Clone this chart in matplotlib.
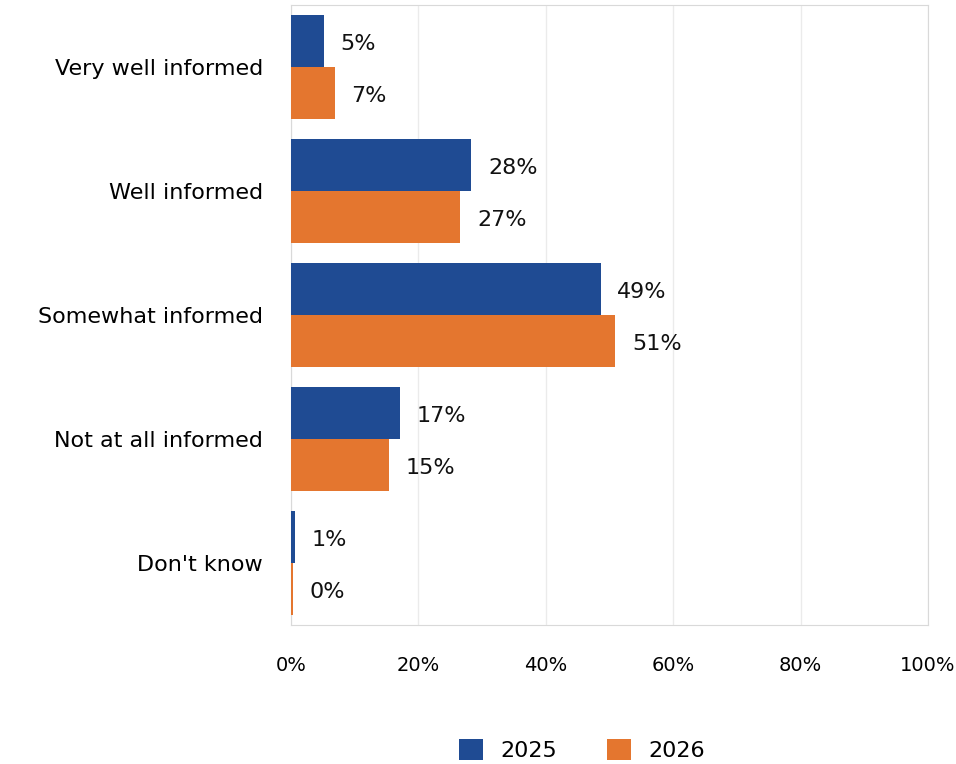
import matplotlib.pyplot as plt
import numpy as np

plt.rcParams['font.family'] = ['DejaVu Sans']

categories = ["Very well informed", "Well informed", "Somewhat informed",
              "Not at all informed", "Don't know"]
years = ["2025", "2026"]
vals_2025 = [5.2, 28.3, 48.6, 17.1, 0.6]
vals_2026 = [6.9, 26.6, 50.9, 15.4, 0.3]
labels_2025 = ["5%", "28%", "49%", "17%", "1%"]
labels_2026 = ["7%", "27%", "51%", "15%", "0%"]
xticks = [0, 20, 40, 60, 80, 100]

blue = "#1F4B93"
orange = "#E4762F"

fig = plt.figure(figsize=(9.56, 7.64), dpi=100)
ax = fig.add_axes([291/956, 1 - 625/764, (928 - 291)/956, (625 - 5)/764])

y = np.arange(len(categories))
h = 0.42
b1 = ax.barh(y - h/2, vals_2025, height=h, color=blue, label=years[0], zorder=3)
b2 = ax.barh(y + h/2, vals_2026, height=h, color=orange, label=years[1], zorder=3)

for bars, labs in ((b1, labels_2025), (b2, labels_2026)):
    for bar, lab in zip(bars, labs):
        ax.annotate(lab, (bar.get_width(), bar.get_y() + bar.get_height()/2),
                    xytext=(12, -2), textcoords="offset points",
                    va="center", ha="left", fontsize=16, color="#111111")

ax.set_ylim(len(categories) - 0.5, -0.5)
ax.set_xlim(0, 100)
ax.set_yticks(y)
ax.set_yticklabels(categories, fontsize=16)
ax.set_xticks(xticks)
ax.set_xticklabels([f"{t}%" for t in xticks], fontsize=14)
ax.tick_params(length=0)
ax.tick_params(axis="y", pad=20)
ax.tick_params(axis="x", pad=22)
ax.grid(axis="x", color="#EBEBEB", linewidth=1, zorder=0)
for s in ax.spines.values():
    s.set_color("#D9D9D9")

fig.legend(handles=[b1, b2], loc="center", bbox_to_anchor=(582/956, 0.018),
           ncol=2, frameon=False, fontsize=16, handlelength=1.1, handleheight=1.1,
           columnspacing=2.2, handletextpad=0.8)

fig.savefig("out.png", dpi=100)
